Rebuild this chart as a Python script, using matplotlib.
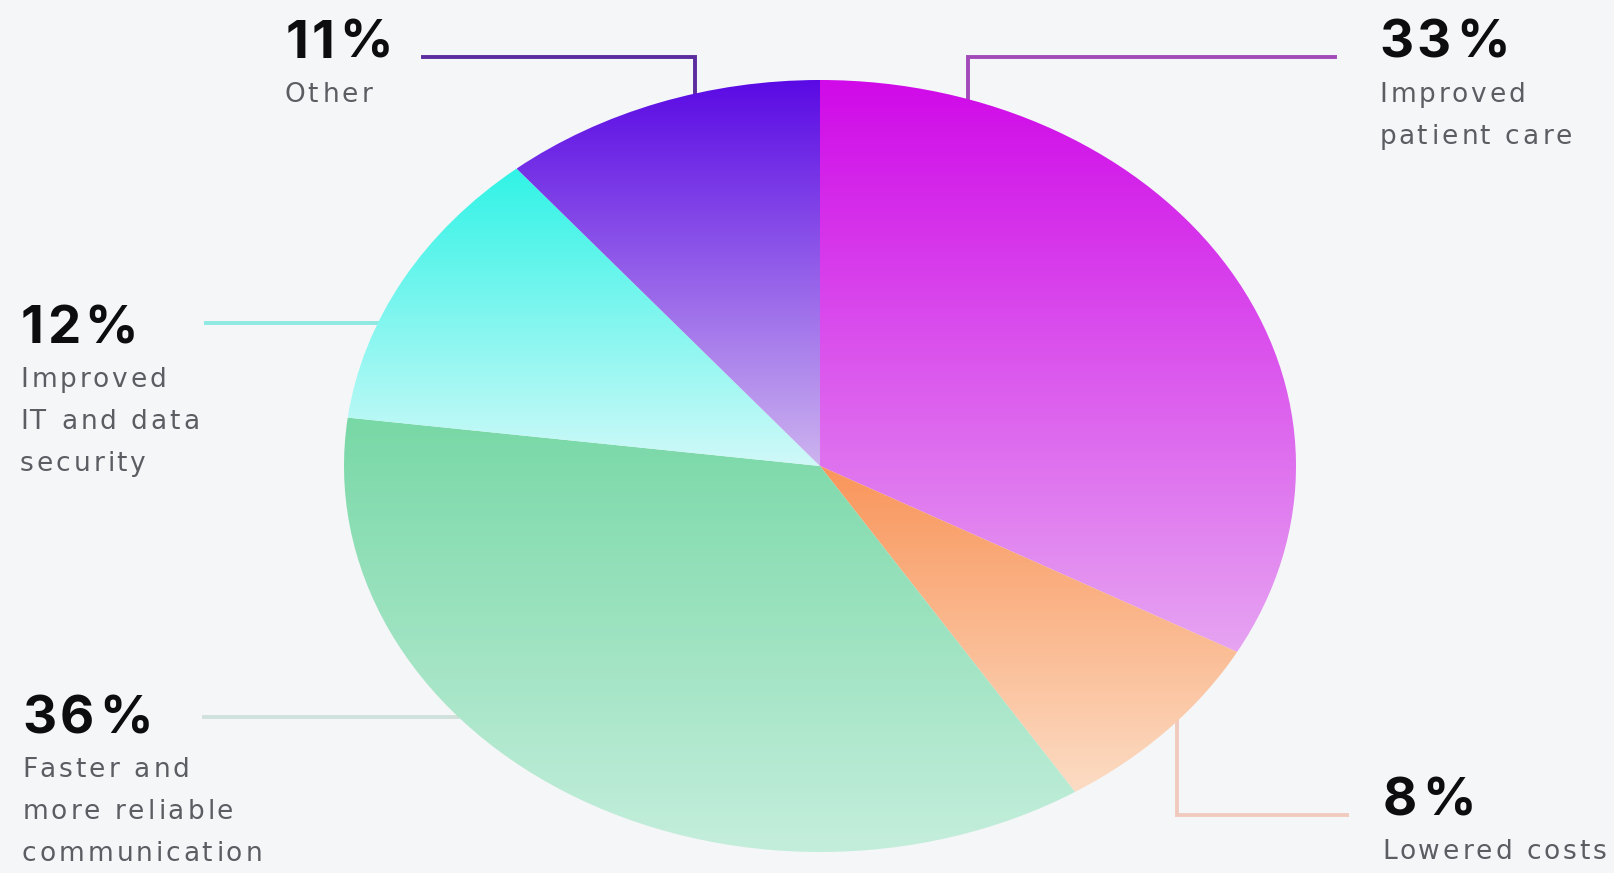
import numpy as np
import matplotlib
matplotlib.use("Agg")
import matplotlib.pyplot as plt
from matplotlib.colors import LinearSegmentedColormap
from matplotlib.font_manager import FontProperties, findfont
from matplotlib.ft2font import FT2Font

# ---- data ----
labels = ["Improved\npatient care", "Lowered costs",
          "Faster and\nmore reliable\ncommunication",
          "Improved\nIT and data\nsecurity", "Other"]
values = [33, 8, 36, 12, 11]
pct_text = ["33%", "8%", "36%", "12%", "11%"]
top_colors = ["#d00ae8", "#f9955a", "#78d8a6", "#30f3e6", "#5a0ae4"]
bottom_colors = ["#e6a4f2", "#fcdcc4", "#c4eedc", "#d0f9f8", "#cdb4ef"]
line_colors = ["#a24ab8", "#f0cbbd", "#d0e0da", "#8ee9e3", "#5b2d9e"]

W, H = 1614, 873
BG = "#f5f6f8"
fig = plt.figure(figsize=(W / 100, H / 100), dpi=100, facecolor=BG)

cx, cy, rx, ry = 820, 466, 476, 386

ov = fig.add_axes([0, 0, 1, 1])
ov.set_xlim(0, W)
ov.set_ylim(H, 0)
ov.axis("off")
ov.patch.set_alpha(0)

pa = fig.add_axes([(cx - rx) / W, (H - cy - ry) / H, 2 * rx / W, 2 * ry / H])
pa.axis("off")
pa.patch.set_alpha(0)
wedges, _ = pa.pie(values, startangle=90, counterclock=False, radius=1,
                   wedgeprops=dict(linewidth=0))
pa.set_aspect("auto")

for w, c0, c1 in zip(wedges, top_colors, bottom_colors):
    t1, t2 = np.deg2rad(w.theta1), np.deg2rad(w.theta2)
    th = np.linspace(t1, t2, 200)
    ys = np.concatenate([np.sin(th), [0]])
    xs = np.concatenate([np.cos(th), [0]])
    cmap = LinearSegmentedColormap.from_list("g", [c1, c0])
    grad = np.linspace(0, 1, 256).reshape(-1, 1)
    w.set_facecolor("none")
    im = pa.imshow(grad, cmap=cmap, origin="lower", aspect="auto",
                   extent=[xs.min(), xs.max(), ys.min(), ys.max()],
                   interpolation="bilinear", zorder=1)
    im.set_clip_path(w)
pa.set_xlim(-1, 1)
pa.set_ylim(-1, 1)


def ell_y(x, sign):
    return cy - sign * ry * np.sqrt(1 - ((x - cx) / rx) ** 2)


def ell_x(y, sign):
    return cx + sign * rx * np.sqrt(1 - ((y - cy) / ry) ** 2)


lw = 2.8
ov.plot([1335, 968, 968], [57, 57, ell_y(968, 1)], color=line_colors[0], lw=lw,
        solid_joinstyle="miter")
ov.plot([1347, 1177, 1177], [815, 815, ell_y(1177, -1)], color=line_colors[1], lw=lw,
        solid_joinstyle="miter")
ov.plot([204, ell_x(717, -1)], [717, 717], color=line_colors[2], lw=lw)
ov.plot([206, ell_x(323, -1)], [323, 323], color=line_colors[3], lw=lw)
ov.plot([423, 695, 695], [57, 57, ell_y(695, 1)], color=line_colors[4], lw=lw,
        solid_joinstyle="miter")


def tracked_text(x, y, s, family, size, weight, color, track):
    prop = FontProperties(family=family, weight=weight, size=size)
    try:
        ft = FT2Font(findfont(prop))
        ft.set_size(size, 100)
        pen = x
        for ch in s:
            g = ft.load_char(ord(ch))
            adv = g.linearHoriAdvance / 65536.0
            bx = g.horiBearingX / 64.0
            if ch != " ":
                ov.text(pen + bx, y, ch, fontproperties=prop, color=color,
                        ha="left", va="baseline")
            pen += adv + track
    except Exception:
        ov.text(x, y, s, fontproperties=prop, color=color,
                ha="left", va="baseline")


pos = [(1377, 58), (1380, 815), (20, 733), (18, 343), (283, 58)]
for (x, y), p, lab in zip(pos, pct_text, labels):
    tracked_text(x, y, p, "Inter", 38, "bold", "#0d0d10", 3.0)
    for i, line in enumerate(lab.split("\n")):
        tracked_text(x, y + 44 + 42 * i, line, "DejaVu Sans", 19, "normal",
                     "#5c5d63", 3.0)

fig.savefig("out.png", dpi=100, facecolor=BG)
